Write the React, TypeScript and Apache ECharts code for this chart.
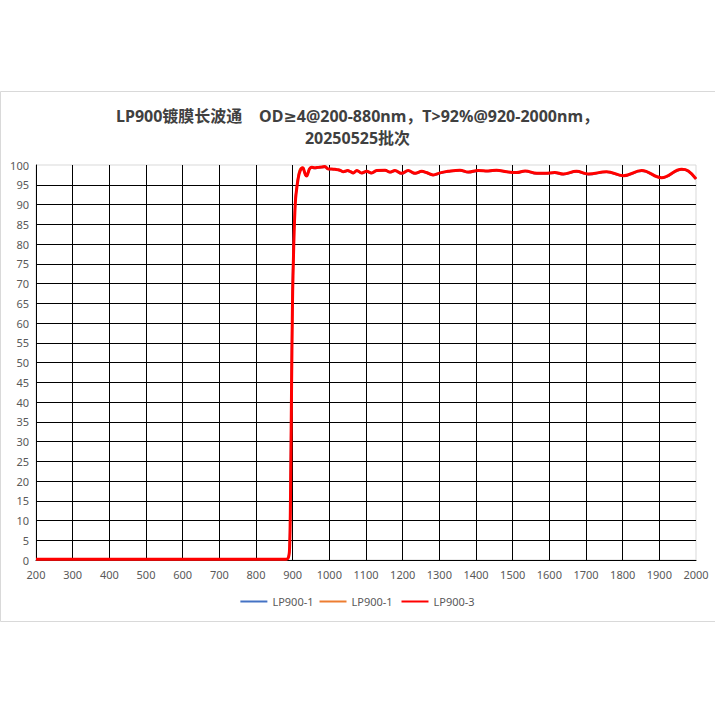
import React, { useEffect, useRef } from "react";
import * as echarts from "echarts";

const titleText =
  "LP900镀膜长波通    OD≥4@200-880nm，T>92%@920-2000nm，\n20250525批次";
const seriesNames = ["LP900-1", "LP900-1 ", "LP900-3"];
const seriesColors = ["#4472C4", "#ED7D31", "#FF0000"];

// wavelength (nm)
const wavelengths = [
  200, 880, 886, 889, 891, 892, 893, 894, 895, 896, 897, 898, 899, 900, 902, 904,
  906, 908, 911, 914, 917, 920, 924, 928, 931, 935, 938, 942, 946, 952, 960, 970,
  980, 988, 997, 1006, 1015, 1024, 1031, 1038, 1050, 1058, 1065, 1075, 1088, 1102,
  1115, 1129, 1152, 1165, 1179, 1197, 1215, 1234, 1252, 1265, 1283, 1302, 1324,
  1356, 1379, 1406, 1433, 1456, 1484, 1511, 1534, 1566, 1588, 1615, 1638, 1674,
  1706, 1756, 1802, 1852, 1906, 1961, 1979, 2000,
];

// transmission (%)
const lp1a = [
  0.2, 0.2, 0.3, 1.0, 2.5, 5, 10, 18, 28, 38, 48, 57, 64, 71, 79, 85,
  89, 92, 94.3, 96.2, 97.6, 98.5, 99.1, 99.2, 98.5, 97.4, 97.2, 98.1, 99, 99.3, 99.2, 99.3,
  99.4, 99.5, 99, 98.9, 98.9, 98.7, 98.5, 98.2, 98.5, 98.2, 97.9, 98.5, 97.9, 98.3,
  97.9, 98.5, 98.6, 98.1, 98.5, 97.8, 98.5, 97.8, 98.3, 98,
  97.4, 97.9, 98.3, 98.6, 98.1, 98.5, 98.4, 98.6, 98.2, 98, 98.4, 97.8, 97.8, 98, 97.6, 98.3,
  97.6, 98.2, 97.2, 98.5, 96.7, 98.8, 98.4, 96.4,
];
const lp1b = [
  0.2, 0.2, 0.3, 0.8, 2, 4, 8, 15, 24, 34, 44, 53, 61, 68, 76, 83,
  88, 91.5, 94.2, 96.4, 98.2, 99, 99.3, 99.3, 98.6, 97.5, 97.2, 98, 99, 99.4, 99.3, 99.4,
  99.5, 99.6, 99, 99, 98.9, 98.8, 98.6, 98.3, 98.6, 98.3, 98, 98.6, 98, 98.4,
  98, 98.6, 98.7, 98.2, 98.6, 97.9, 98.6, 97.9, 98.4, 98.1,
  97.5, 98, 98.4, 98.7, 98.2, 98.6, 98.5, 98.7, 98.3, 98.1, 98.5, 97.9, 97.9, 98.1, 97.7, 98.4,
  97.7, 98.3, 97.3, 98.6, 96.8, 98.9, 98.5, 96.5,
];
const lp3 = [
  0.2, 0.2, 0.3, 0.8, 2, 4, 8, 15, 24, 34, 44, 53, 61, 68, 76, 83,
  88, 91.5, 94, 96, 97.5, 98.4, 99.1, 99.3, 98.6, 97.5, 97.2, 98, 99, 99.4, 99.3, 99.4,
  99.5, 99.6, 99, 99, 98.9, 98.8, 98.6, 98.3, 98.6, 98.3, 98, 98.6, 98, 98.4,
  98, 98.6, 98.7, 98.2, 98.6, 97.9, 98.6, 97.9, 98.4, 98.1,
  97.5, 98, 98.4, 98.7, 98.2, 98.6, 98.5, 98.7, 98.3, 98.1, 98.5, 97.9, 97.9, 98.1, 97.7, 98.4,
  97.7, 98.3, 97.3, 98.6, 96.8, 98.9, 98.5, 96.5,
];
const seriesValues = [lp1a, lp1b, lp3];
const lineWidths = [2, 2, 3];

const font = "'Noto Sans', 'Noto Sans CJK SC', sans-serif";
const titleFont = "'Noto Sans', 'DejaVu Sans', 'Noto Sans CJK SC', sans-serif";

export default function App() {
  const chartRef = useRef<HTMLDivElement | null>(null);

  useEffect(() => {
    if (!chartRef.current) return;
    const chart = echarts.init(chartRef.current, null, { renderer: "svg" });
    const option = {
      animation: false,
      backgroundColor: "#ffffff",
      textStyle: { fontFamily: font },
      title: {
        text: titleText,
        left: "center",
        top: 100,
        textStyle: {
          fontFamily: titleFont,
          fontSize: 16,
          fontWeight: "bold",
          color: "#404040",
          lineHeight: 22,
        },
      },
      graphic: [
        {
          type: "rect",
          shape: { x: 0.5, y: 91.5, width: 716, height: 530 },
          style: { fill: "none", stroke: "#d9d9d9", lineWidth: 1 },
          silent: true,
        },
      ],
      legend: {
        bottom: 103,
        left: "center",
        icon: "rect",
        itemWidth: 27,
        itemHeight: 2,
        itemGap: 6,
        data: seriesNames,
        textStyle: { fontFamily: font, fontSize: 11, color: "#595959" },
      },
      grid: {
        left: 36,
        right: 19,
        top: 165,
        bottom: 155,
        show: true,
        borderColor: "#d9d9d9",
        borderWidth: 1,
      },
      xAxis: {
        type: "value",
        min: 200,
        max: 2000,
        interval: 100,
        axisLine: { show: true, lineStyle: { color: "#000", width: 1 } },
        axisTick: { show: false },
        axisLabel: {
          color: "#595959",
          fontSize: 11,
          margin: 9,
          fontFamily: font,
          formatter: (v: number) => String(v),
        },
        splitLine: { show: true, showMaxLine: false, lineStyle: { color: "#000", width: 1 } },
      },
      yAxis: {
        type: "value",
        min: 0,
        max: 100,
        interval: 5,
        axisLine: { show: true, lineStyle: { color: "#000", width: 1 } },
        axisTick: { show: false },
        axisLabel: { color: "#595959", fontSize: 11, margin: 7, fontFamily: font },
        splitLine: { show: true, showMaxLine: false, lineStyle: { color: "#000", width: 1 } },
      },
      series: seriesNames.map((name, i) => ({
        name,
        type: "line",
        showSymbol: false,
        symbol: "none",
        smooth: 0.4,
        color: seriesColors[i],
        lineStyle: { color: seriesColors[i], width: lineWidths[i] },
        data: wavelengths.map((w, j) => [w, seriesValues[i][j]]),
        z: 2 + i,
      })),
    };
    chart.setOption(option);
    return () => {
      chart.dispose();
    };
  }, []);

  return (
    <div
      ref={chartRef}
      style={{ position: "fixed", left: 0, top: 0, width: 715, height: 715 }}
    />
  );
}
